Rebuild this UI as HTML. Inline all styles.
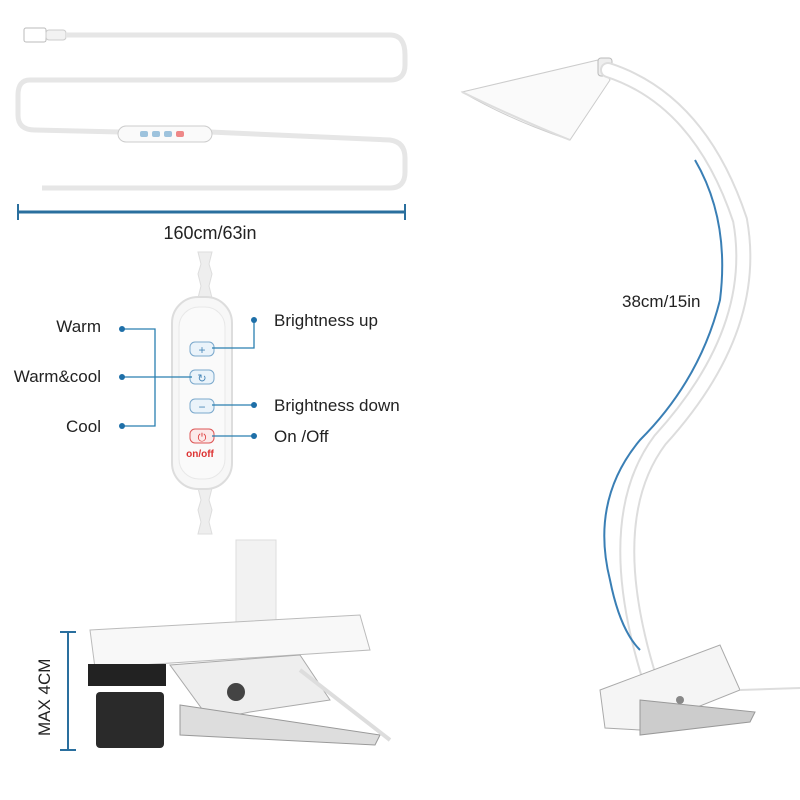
<!DOCTYPE html>
<html><head><style>
body{margin:0;background:#fff}
svg{display:block}
text{font-family:"Liberation Sans",sans-serif;fill:#222}
</style></head><body>
<svg width="800" height="800" viewBox="0 0 800 800" xmlns="http://www.w3.org/2000/svg">
<!-- USB plug -->
<rect x="24" y="28" width="22" height="14" rx="2" fill="#fff" stroke="#bbb"/>
<rect x="46" y="30" width="20" height="10" rx="3" fill="#f2f2f2" stroke="#ccc"/>
<!-- cable top -->
<path d="M66 35 L390 35 Q405 35 405 55 L405 65 Q405 80 390 80 L30 80 Q18 80 18 95 L18 115 Q18 130 35 130 L120 132" fill="none" stroke="#e6e6e6" stroke-width="5"/>
<path d="M210 132 L390 140 Q405 142 405 158 L405 172 Q405 188 390 188 L42 188" fill="none" stroke="#e6e6e6" stroke-width="5"/>
<rect x="118" y="126" width="94" height="16" rx="8" fill="#fafafa" stroke="#ccc"/>
<g fill="#9ec3dd"><rect x="140" y="131" width="8" height="6" rx="2"/><rect x="152" y="131" width="8" height="6" rx="2"/><rect x="164" y="131" width="8" height="6" rx="2"/></g>
<rect x="176" y="131" width="8" height="6" rx="2" fill="#e88"/>
<!-- dimension -->
<line x1="18" y1="212" x2="405" y2="212" stroke="#2a6f9e" stroke-width="3"/>
<line x1="18" y1="204" x2="18" y2="220" stroke="#2a6f9e" stroke-width="2"/>
<line x1="405" y1="204" x2="405" y2="220" stroke="#2a6f9e" stroke-width="2"/>
<text x="210" y="239" font-size="18" text-anchor="middle">160cm/63in</text>
<!-- controller -->
<path d="M198 252 l14 0 l-3 12 l3 10 l-3 12 l3 12 l-14 0 l3 -12 l-3 -12 l3 -10z" fill="#eee" stroke="#ddd"/>
<path d="M198 488 l14 0 l-3 12 l3 10 l-3 12 l3 12 l-14 0 l3 -12 l-3 -12 l3 -10z" fill="#eee" stroke="#ddd"/>
<rect x="172" y="297" width="60" height="192" rx="26" fill="#f7f7f7" stroke="#ddd" stroke-width="2"/>
<rect x="179" y="307" width="46" height="172" rx="20" fill="#fafafa" stroke="#e8e8e8"/>
<g fill="#eaf3fa" stroke="#7aa8cc"><rect x="190" y="342" width="24" height="14" rx="5"/><rect x="190" y="370" width="24" height="14" rx="5"/><rect x="190" y="399" width="24" height="14" rx="5"/></g>
<text x="202" y="354" font-size="12" text-anchor="middle" style="fill:#4a88b8">+</text>
<text x="202" y="382" font-size="11" text-anchor="middle" style="fill:#4a88b8">↻</text>
<text x="202" y="411" font-size="12" text-anchor="middle" style="fill:#4a88b8">−</text>
<rect x="190" y="429" width="24" height="14" rx="5" fill="#fbe9e9" stroke="#d55"/>
<text x="202" y="441" font-size="11" text-anchor="middle" style="fill:#d33">⏻</text>
<text x="200" y="457" font-size="10" font-weight="bold" text-anchor="middle" style="fill:#d33">on/off</text>
<!-- connectors -->
<g stroke="#2a7fb0" stroke-width="1.3" fill="none">
<path d="M122 329 H155 V426 H122"/><path d="M122 377 H192"/>
<path d="M254 320 V348 H212"/><path d="M254 405 H212"/><path d="M254 436 H212"/>
</g>
<g fill="#1e6fa8"><circle cx="122" cy="329" r="3"/><circle cx="122" cy="377" r="3"/><circle cx="122" cy="426" r="3"/><circle cx="254" cy="320" r="3"/><circle cx="254" cy="405" r="3"/><circle cx="254" cy="436" r="3"/></g>
<g font-size="17"><text x="101" y="332" text-anchor="end">Warm</text><text x="101" y="382" text-anchor="end">Warm&amp;cool</text><text x="101" y="432" text-anchor="end">Cool</text>
<text x="274" y="326">Brightness up</text><text x="274" y="411">Brightness down</text><text x="274" y="442">On /Off</text></g>
<!-- clip bottom-left -->
<rect x="236" y="540" width="40" height="100" fill="#f2f2f2" stroke="#ddd"/>
<path d="M90 630 L360 615 L370 650 L95 668 Z" fill="#f8f8f8" stroke="#bbb"/>
<rect x="88" y="664" width="78" height="22" fill="#222"/>
<path d="M170 665 L300 655 L330 700 L250 712 L210 720 Z" fill="#eee" stroke="#aaa"/>
<circle cx="236" cy="692" r="9" fill="#444"/>
<path d="M180 705 L380 735 L375 745 L180 735 Z" fill="#ddd" stroke="#999"/>
<rect x="96" y="692" width="68" height="56" rx="4" fill="#2a2a2a"/>
<path d="M300 670 L390 740" stroke="#ddd" stroke-width="4"/>
<line x1="68" y1="632" x2="68" y2="750" stroke="#2a6f9e" stroke-width="2"/>
<line x1="60" y1="632" x2="76" y2="632" stroke="#2a6f9e" stroke-width="2"/>
<line x1="60" y1="750" x2="76" y2="750" stroke="#2a6f9e" stroke-width="2"/>
<text x="0" y="0" font-size="17" transform="translate(50 736) rotate(-90)">MAX 4CM</text>
<!-- lamp -->
<path d="M462 92 L598 60 L610 80 L570 140 Q510 120 462 92 Z" fill="#fafafa" stroke="#ccc"/>
<path d="M462 92 Q520 120 570 140" fill="none" stroke="#ddd" stroke-width="2"/>
<rect x="598" y="58" width="14" height="18" rx="3" fill="#eee" stroke="#bbb"/>
<path d="M608 70 Q700 100 740 220 Q760 330 660 440 Q600 520 650 680" fill="none" stroke="#ddd" stroke-width="16" stroke-linecap="round"/>
<path d="M608 70 Q700 100 740 220 Q760 330 660 440 Q600 520 650 680" fill="none" stroke="#fff" stroke-width="12" stroke-linecap="round"/>
<path d="M695 160 Q730 220 720 300 Q700 380 640 440 Q590 500 610 580 Q620 630 640 650" fill="none" stroke="#3a7fb5" stroke-width="2"/>
<text x="622" y="307" font-size="17">38cm/15in</text>
<path d="M600 690 L720 645 L740 690 L640 730 L605 728 Z" fill="#f5f5f5" stroke="#aaa"/>
<path d="M640 700 L755 712 L750 722 L640 735 Z" fill="#ccc" stroke="#999"/>
<circle cx="680" cy="700" r="4" fill="#888"/>
<path d="M740 690 L800 688" stroke="#ddd" stroke-width="2"/>
</svg>
</body></html>
